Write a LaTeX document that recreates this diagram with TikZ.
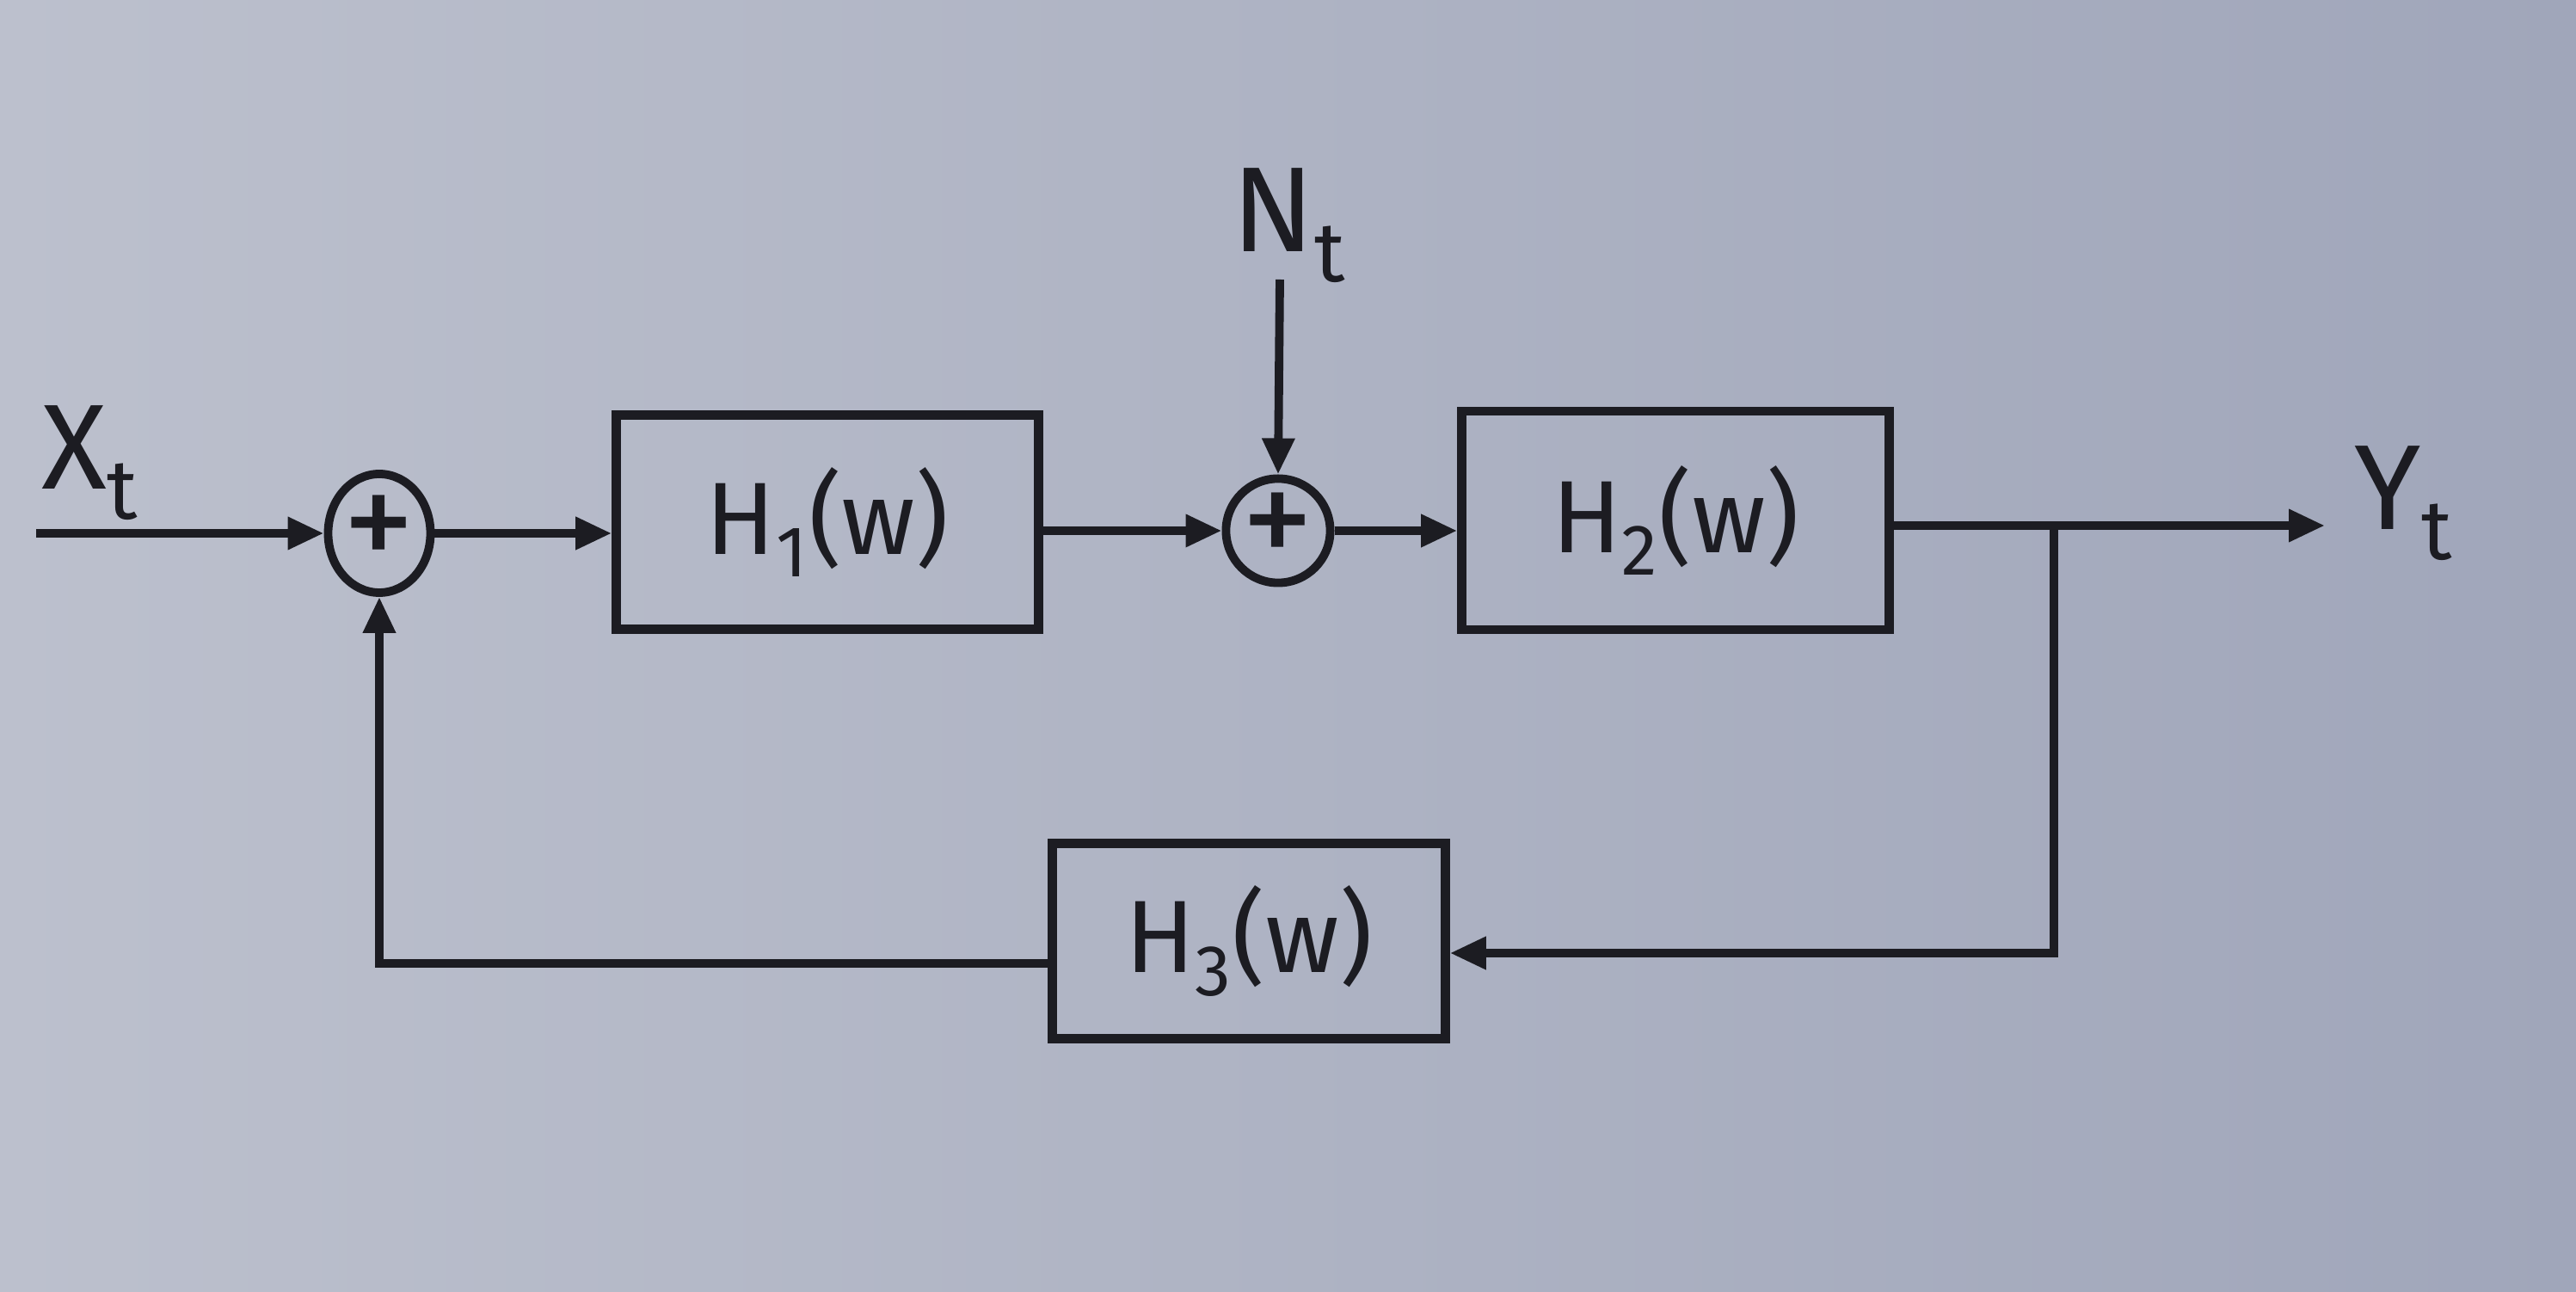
\documentclass[tikz,border=0pt]{standalone}
\usepackage{fontspec}
\setmainfont{Fira Sans}
\usetikzlibrary{arrows.meta,shapes.geometric}
\definecolor{ink}{RGB}{28,28,34}
\definecolor{paperL}{RGB}{188,192,205}
\definecolor{paperR}{RGB}{160,166,186}
\tikzset{
  blk/.style={draw=ink, line width=3pt, minimum width=#1},
  lbl/.style={text=ink, font=\fontsize{34}{36}\selectfont},
  sig/.style={text=ink, font=\fontsize{40}{42}\selectfont},
  wire/.style={draw=ink, line width=2.8pt},
  arr/.style={wire, -{Triangle[length=0.42cm,width=0.36cm]}},
  sumnode/.style={draw=ink, line width=2.8pt, inner sep=0pt, text=ink, font=\fontsize{48}{48}\selectfont}
}
\begin{document}
\begin{tikzpicture}
\shade[left color=paperL, right color=paperR] (0,0) rectangle (29.95,-15.02);
\useasboundingbox (0,0) rectangle (29.95,-15.02);

% signals
\node[sig] (xt) at (1.05,-5.38) {X\textsubscript{t}};
\node[sig] (nt) at (14.99,-2.62) {N\textsubscript{t}};
\node[sig] (yt) at (27.95,-5.85) {Y\textsubscript{t}};

% summing junctions
\node[sumnode, ellipse, minimum width=1.18cm, minimum height=1.38cm] (s1) at (4.41,-6.2) {+};
\node[sumnode, circle, minimum size=1.1cm] (s2) at (14.86,-6.17) {+};

% blocks
\node[blk=4.91cm, lbl, minimum height=2.49cm] (h1) at (9.62,-6.07) {H\textsubscript{1}(w)};
\node[blk=4.97cm, lbl, minimum height=2.54cm] (h2) at (19.48,-6.05) {H\textsubscript{2}(w)};
\node[blk=4.57cm, lbl, minimum height=2.27cm] (h3) at (14.52,-10.94) {H\textsubscript{3}(w)};

% coordinates
\coordinate (in) at (0.42,-6.2);
\coordinate (ntstart) at (14.88,-3.25);
\coordinate (out) at (27.03,-6.11);
\coordinate (br) at (23.88,-6.11);
\coordinate (brd) at (23.88,-11.08);
\coordinate (fbl) at (4.53,-11.2);

% connectors
\draw[arr] (in) -- (s1.west);
\draw[arr] (s1.east) -- (h1.west |- s1.east);
\draw[arr] (h1.east |- s2.west) -- (s2.west);
\draw[arr] (ntstart) -- (s2.north);
\draw[arr] (s2.east) -- (h2.west |- s2.east);
\draw[arr] (h2.east |- out) -- (out);
\draw[arr] (br) -- (brd) -- (h3.east |- brd);
\draw[arr] (h3.west |- fbl) -- (s1.south |- fbl) -- (s1.south);
\end{tikzpicture}
\end{document}
